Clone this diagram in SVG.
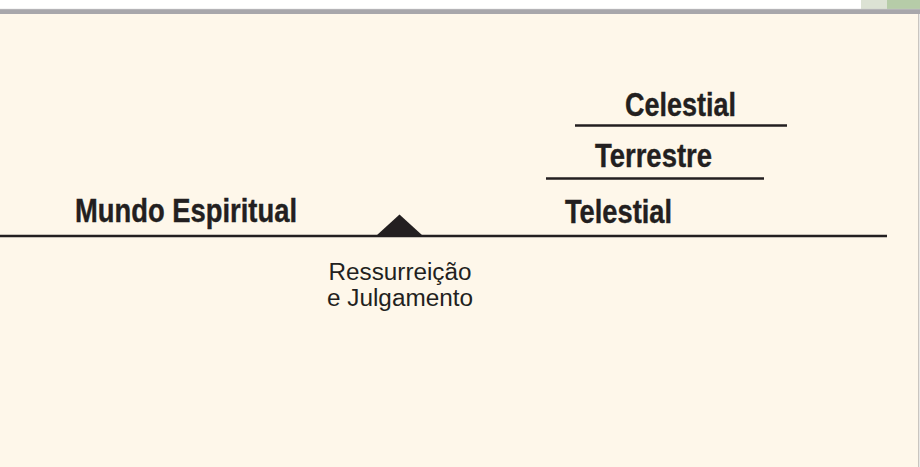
<svg xmlns="http://www.w3.org/2000/svg" width="920" height="467" viewBox="0 0 920 467">
<style>
.bold{font-family:"Liberation Sans",Arial,sans-serif;font-weight:bold;font-size:33px;fill:#231f20;stroke:#231f20;stroke-width:0.4}
.reg{font-family:"Liberation Sans",Arial,sans-serif;font-size:23px;fill:#231f20}
.ln{stroke:#231f20;stroke-width:2.3;fill:none}
</style>
<rect x="0" y="0" width="920" height="467" fill="#ffffff"/>
<rect x="861" y="0" width="26" height="10" fill="#dce2d4"/>
<rect x="887" y="0" width="33" height="10" fill="#b6cca8"/>
<rect x="0" y="14" width="919" height="453" fill="#fef7ea"/>
<rect x="0" y="9" width="920" height="5" fill="#a8a7ab"/>
<line x1="0" y1="9.2" x2="920" y2="9.2" stroke="#c9c9cb" stroke-width="0.6"/>
<line x1="918.7" y1="14" x2="918.7" y2="467" stroke="#c9c5c0" stroke-width="1.4"/>
<g id="connectors">
<line class="ln" x1="0" y1="236" x2="887" y2="236"/>
<line class="ln" x1="575" y1="125.5" x2="787" y2="125.5"/>
<line class="ln" x1="546" y1="178.5" x2="764" y2="178.5"/>
</g>
<g id="juizo">
<polygon points="376.5,235.5 399.5,214.5 422.5,235.5" fill="#231f20"/>
<text class="reg" x="400" y="280" text-anchor="middle" textLength="143" lengthAdjust="spacingAndGlyphs">Ressurreição</text>
<text class="reg" x="400" y="306" text-anchor="middle" textLength="146" lengthAdjust="spacingAndGlyphs">e Julgamento</text>
</g>
<g id="mundo-espiritual">
<text class="bold" x="75" y="222" textLength="222" lengthAdjust="spacingAndGlyphs">Mundo Espiritual</text>
</g>
<g id="telestial">
<text class="bold" x="565" y="222.5" textLength="107" lengthAdjust="spacingAndGlyphs">Telestial</text>
</g>
<g id="terrestre">
<text class="bold" x="595" y="167.3" textLength="117" lengthAdjust="spacingAndGlyphs">Terrestre</text>
</g>
<g id="celestial">
<text class="bold" x="625" y="115.5" textLength="111" lengthAdjust="spacingAndGlyphs">Celestial</text>
</g>
</svg>
